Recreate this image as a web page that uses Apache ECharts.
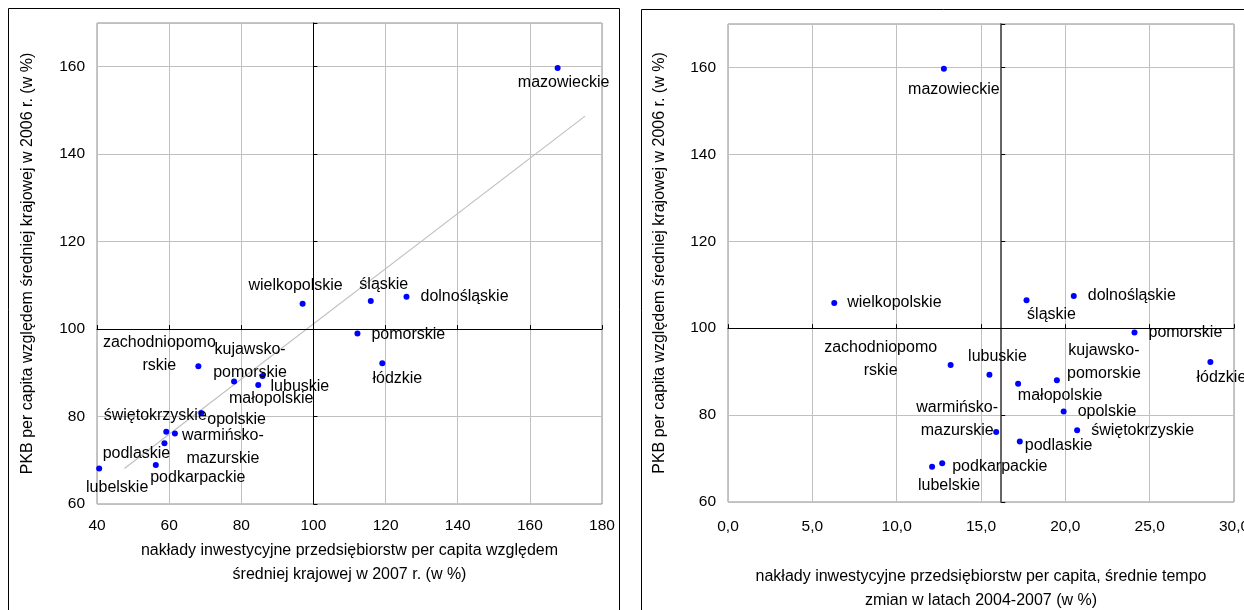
<!DOCTYPE html>
<html>
<head>
<meta charset="utf-8">
<script src="https://cdn.jsdelivr.net/npm/echarts@6/dist/echarts.min.js"></script>
<style>
html,body{margin:0;padding:0;background:#fff;}
#chart{width:1244px;height:610px;}
</style>
</head>
<body>
<div id="chart"></div>
<script>
// ---- data ----
const regions = ['mazowieckie','wielkopolskie','śląskie','dolnośląskie','pomorskie','łódzkie','zachodniopomorskie','kujawsko-pomorskie','lubuskie','małopolskie','opolskie','świętokrzyskie','warmińsko-mazurskie','podlaskie','podkarpackie','lubelskie'];
const regionLabels = ['mazowieckie','wielkopolskie','śląskie','dolnośląskie','pomorskie','łódzkie','zachodniopomo\nrskie','kujawsko-\npomorskie','lubuskie','małopolskie','opolskie','świętokrzyskie','warmińsko-\nmazurskie','podlaskie','podkarpackie','lubelskie'];
const pkb2006 = [159.7,105.8,106.4,107.4,99.0,92.2,91.5,88.0,89.3,87.2,80.8,76.5,76.1,73.9,68.9,68.1];
const invest2007 = [167.7,97.0,115.9,125.8,112.2,119.1,68.1,78.0,85.9,84.7,68.9,59.2,61.6,58.7,56.3,40.6];
const investGrowth = [12.8,6.3,17.7,20.5,24.1,28.6,13.2,19.5,15.5,17.2,19.9,20.7,15.9,17.3,12.7,12.1];
const trendX = [47.6,175.3];
const trendY = [68.1,148.7];
const leftRef = [100,100];   // [x, y] where the axes cross
const rightRef = [16.2,100];
const leftXTicks = [40,180,20];   // min, max, interval
const rightXTicks = [0,30,5];
const yTicks = [60,170,20];

// ---- label layout (not data) ----
const leftLayout = [
  ['center',6,15],['center',-7,-18],['center',13,-17],['left',14,0],['left',14,1],['center',15,15],
  ['center',-39,-12],['center',16,-20],['left',8,11],['center',13,14],['left',6,7],['center',-11,-16],
  ['center',48,13],['center',-28,10],['center',42,13],['center',18,19]
];
const rightLayout = [
  ['center',10,21],['left',13,0],['center',25,14],['left',14,0],['left',14,0],['center',11,16],
  ['center',-70,-6],['center',47,-18],['center',8,-18],['center',42,12],['left',14,0],['left',14,0],
  ['center',-39,-13],['left',5,4],['left',10,3],['center',17,19]
];

const FONT = 'Liberation Sans, Arial, sans-serif';
function pts(xs, layout){
  return xs.map((x,i)=>({
    name: regions[i],
    value:[x,pkb2006[i]],
    label:{formatter: regionLabels[i], align: layout[i][0], offset:[layout[i][1],layout[i][2]]}
  }));
}
const labelFont = {color:'#000',fontFamily:FONT,fontSize:15.5};
const nameFont = {color:'#000',fontFamily:FONT,fontSize:16,lineHeight:24};

function mainAxis(extra){
  return Object.assign({
    type:'value',
    axisLine:{show:false,onZero:false}, axisTick:{show:false},
    splitLine:{show:true,lineStyle:{color:'#c0c0c0',width:1}},
    nameTextStyle:nameFont
  }, extra);
}
// axis drawn at the crossing value (line + small ticks)
function crossAxis(grid, ticks, onZeroIdx, color, width){
  return {type:'value',gridIndex:grid,min:ticks[0],max:ticks[1],interval:ticks[2],
    axisLine:{show:true,onZero:true,onZeroAxisIndex:onZeroIdx,lineStyle:{color:color,width:width}},
    axisTick:{show:true,length:4,lineStyle:{color:'#000',width:1}},
    axisLabel:{show:false},splitLine:{show:false},z:3};
}
// hidden helper axis whose zero sits at the crossing value
function shiftAxis(grid, ticks, ref){
  return {type:'value',gridIndex:grid,show:false,min:ticks[0]-ref,max:ticks[1]-ref,
    axisLine:{onZero:false},splitLine:{show:false}};
}

const chart = echarts.init(document.getElementById('chart'),null,{renderer:'canvas'});
const labelStyle = {show:true,position:'inside',color:'#000',fontFamily:FONT,fontSize:16,lineHeight:23,verticalAlign:'middle'};
chart.setOption({
  animation:false,
  backgroundColor:'#fff',
  grid:[
    {left:97,top:23,width:505,height:481,show:true,borderColor:'#8c8c8c',borderWidth:1,containLabel:false,outerBoundsMode:'none'},
    {left:728,top:24,width:506,height:478,show:true,borderColor:'#8c8c8c',borderWidth:1,containLabel:false,outerBoundsMode:'none'}
  ],
  xAxis:[
    mainAxis({gridIndex:0,min:leftXTicks[0],max:leftXTicks[1],interval:leftXTicks[2],
      name:'nakłady inwestycyjne przedsiębiorstw per capita względem\nśredniej krajowej w 2007 r. (w %)',
      nameLocation:'middle',nameGap:33,
      axisLabel:Object.assign({},labelFont,{margin:14})}),
    mainAxis({gridIndex:1,min:rightXTicks[0],max:rightXTicks[1],interval:rightXTicks[2],
      name:'nakłady inwestycyjne przedsiębiorstw per capita, średnie tempo\nzmian w latach 2004-2007 (w %)',
      nameLocation:'middle',nameGap:63,
      axisLabel:Object.assign({},labelFont,{margin:17,formatter:v=>v.toFixed(1).replace('.',',')})}),
    crossAxis(0,leftXTicks,3,'#000',1),
    shiftAxis(0,leftXTicks,leftRef[0]),
    crossAxis(1,rightXTicks,5,'#000',1),
    shiftAxis(1,rightXTicks,rightRef[0])
  ],
  yAxis:[
    mainAxis({gridIndex:0,min:yTicks[0],max:yTicks[1],interval:yTicks[2],
      name:'PKB per capita względem średniej krajowej w 2006 r. (w %)',nameLocation:'middle',nameGap:57,
      axisLabel:Object.assign({},labelFont,{margin:12,showMaxLabel:false})}),
    mainAxis({gridIndex:1,min:yTicks[0],max:yTicks[1],interval:yTicks[2],
      name:'PKB per capita względem średniej krajowej w 2006 r. (w %)',nameLocation:'middle',nameGap:56,
      axisLabel:Object.assign({},labelFont,{margin:12,showMaxLabel:false})}),
    crossAxis(0,yTicks,3,'#000',1),
    shiftAxis(0,yTicks,leftRef[1]),
    crossAxis(1,yTicks,5,'#666',2),
    shiftAxis(1,yTicks,rightRef[1])
  ],
  graphic:[
    {type:'rect',shape:{x:8.5,y:8.5,width:611,height:640},style:{fill:'none',stroke:'#000',lineWidth:1},z:-10},
    {type:'rect',shape:{x:641.5,y:9.5,width:640,height:640},style:{fill:'none',stroke:'#000',lineWidth:1},z:-10}
  ],
  series:[
    {type:'line',xAxisIndex:0,yAxisIndex:0,data:trendX.map((x,i)=>[x,trendY[i]]),symbol:'none',
      lineStyle:{color:'#c0c0c0',width:1.2},silent:true,z:2},
    {type:'scatter',xAxisIndex:0,yAxisIndex:0,data:pts(invest2007,leftLayout),symbolSize:6,
      itemStyle:{color:'#0000ff',opacity:1},label:labelStyle,z:5},
    {type:'scatter',xAxisIndex:1,yAxisIndex:1,data:pts(investGrowth,rightLayout),symbolSize:6,
      itemStyle:{color:'#0000ff',opacity:1},label:labelStyle,z:5}
  ]
});
</script>
</body>
</html>
